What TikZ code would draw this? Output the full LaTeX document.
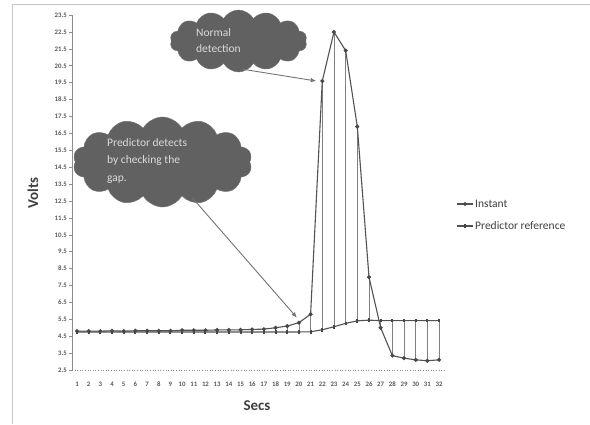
\documentclass[tikz,border=0pt]{standalone}
\usepackage{fontspec}
\setmainfont{Carlito}
\usetikzlibrary{shapes.symbols,shapes.geometric,arrows.meta}
\begin{document}
\begin{tikzpicture}[x=1pt,y=1pt,
  frameline/.style={draw=black!22,line width=0.9pt},
  axisline/.style={draw=black!45,line width=0.6pt},
  ticklab/.style={font=\bfseries\fontsize{6.8}{7}\selectfont,text=black!65,inner sep=0pt},
  axistitle/.style={font=\bfseries\fontsize{15}{17}\selectfont,text=black!75},
  serline/.style={draw=black!68,line width=1.1pt},
  dropline/.style={draw=black!50,line width=0.55pt},
  imark/.style={diamond,fill=black!72,inner sep=0pt,minimum size=4.6pt},
  rmark/.style={rectangle,fill=black!72,inner sep=0pt,minimum width=2pt,minimum height=3.6pt},
  cloudbox/.style={cloud,cloud puffs=14,cloud puff arc=120,fill=black!62,draw=black!55,inner sep=0pt},
  cloudtext/.style={text=black!14,inner sep=0pt,align=left,anchor=west},
  callout/.style={draw=black!55,line width=0.9pt,-{Latex[length=5.5pt,width=4.5pt]}},
  legtext/.style={font=\fontsize{11.5}{13}\selectfont,text=black!75,anchor=west,inner sep=0pt}]
\useasboundingbox (0,0) rectangle (590,424);
\fill[white] (0,0) rectangle (590,424);
% frame
\draw[frameline] (12,0) -- (12,420) -- (590,420);
% axes
\draw[axisline] (72,54) -- (72,409);
\draw[axisline,dotted,line width=0.8pt] (72,54) -- (445,54);
\begin{scope}[shift={(65.32pt,11.75pt)},x=11.68pt,y=16.9pt]
  \foreach \v in {2.5,3.5,...,23.5} {
    \draw[axisline] (0.572,\v) -- ++(-3.5pt,0);
    \node[ticklab,anchor=east] (yl\v) at ([xshift=-5pt]0.572,\v) {\v};
  }
  \foreach \i in {1,...,32}
    \node[ticklab] (xl\i) at ([yshift=-14pt]\i,2.5) {\i};
  \foreach \v [count=\i] in {4.8,4.8,4.8,4.82,4.8,4.82,4.82,4.82,4.82,4.85,4.85,4.85,4.87,4.87,4.88,4.9,4.92,5.0,5.1,5.3,5.8,19.6,22.5,21.4,16.9,8.0,5.0,3.35,3.2,3.1,3.05,3.1}
    \coordinate (i\i) at (\i,\v);
  \foreach \v [count=\i] in {4.75,4.75,4.75,4.75,4.75,4.75,4.75,4.75,4.75,4.75,4.75,4.75,4.75,4.75,4.75,4.75,4.75,4.75,4.75,4.75,4.76,4.88,5.06,5.26,5.41,5.45,5.42,5.42,5.42,5.42,5.42,5.42}
    \coordinate (r\i) at (\i,\v);
\end{scope}
% drop lines
\foreach \j in {1,...,32} \draw[dropline] (i\j) -- (r\j);
% series
\draw[serline] (r1) \foreach \j in {2,...,32} { -- (r\j)};
\draw[serline] (i1) \foreach \j in {2,...,32} { -- (i\j)};
\foreach \j in {1,...,32} \node[rmark] (rm\j) at (r\j) {};
\foreach \j in {1,...,32} \node[imark] (im\j) at (i\j) {};
% axis titles
\node[axistitle] (xtitle) at (257,18) {Secs};
\node[axistitle,rotate=90] (ytitle) at (33,231) {Volts};
% legend
\coordinate (la1) at (457,220); \coordinate (lb1) at (473,220);
\coordinate (la2) at (457,198); \coordinate (lb2) at (473,198);
\draw[serline] (la1) -- (lb1);
\draw[serline] (la2) -- (lb2);
\node[imark] (lm1) at (465,220) {};
\node[rmark] (lm2) at (465,198) {};
\node[legtext] (lt1) at (475,220) {Instant};
\node[legtext] (lt2) at (475,198) {Predictor reference};
% callouts (drawn under the clouds)
\node[cloudbox,minimum width=137pt,minimum height=62pt] (c1) at (238.5,383) {};
\node[cloudbox,minimum width=179pt,minimum height=90pt] (c2) at (162.5,262) {};
\draw[callout] ([xshift=4pt,yshift=3pt]c1.south) -- ([xshift=-6pt]i22);
\draw[callout] ([xshift=30pt,yshift=-36pt]c2.center) -- ([shift={(-2pt,5pt)}]i20);
\node[cloudtext,font=\fontsize{11.5}{16}\selectfont] (t1) at (196,383.5) {Normal\\detection};
\node[cloudtext,font=\fontsize{11.5}{17.5}\selectfont] (t2) at (107,263.5) {Predictor detects\\by checking the\\gap.};
\end{tikzpicture}
\end{document}
